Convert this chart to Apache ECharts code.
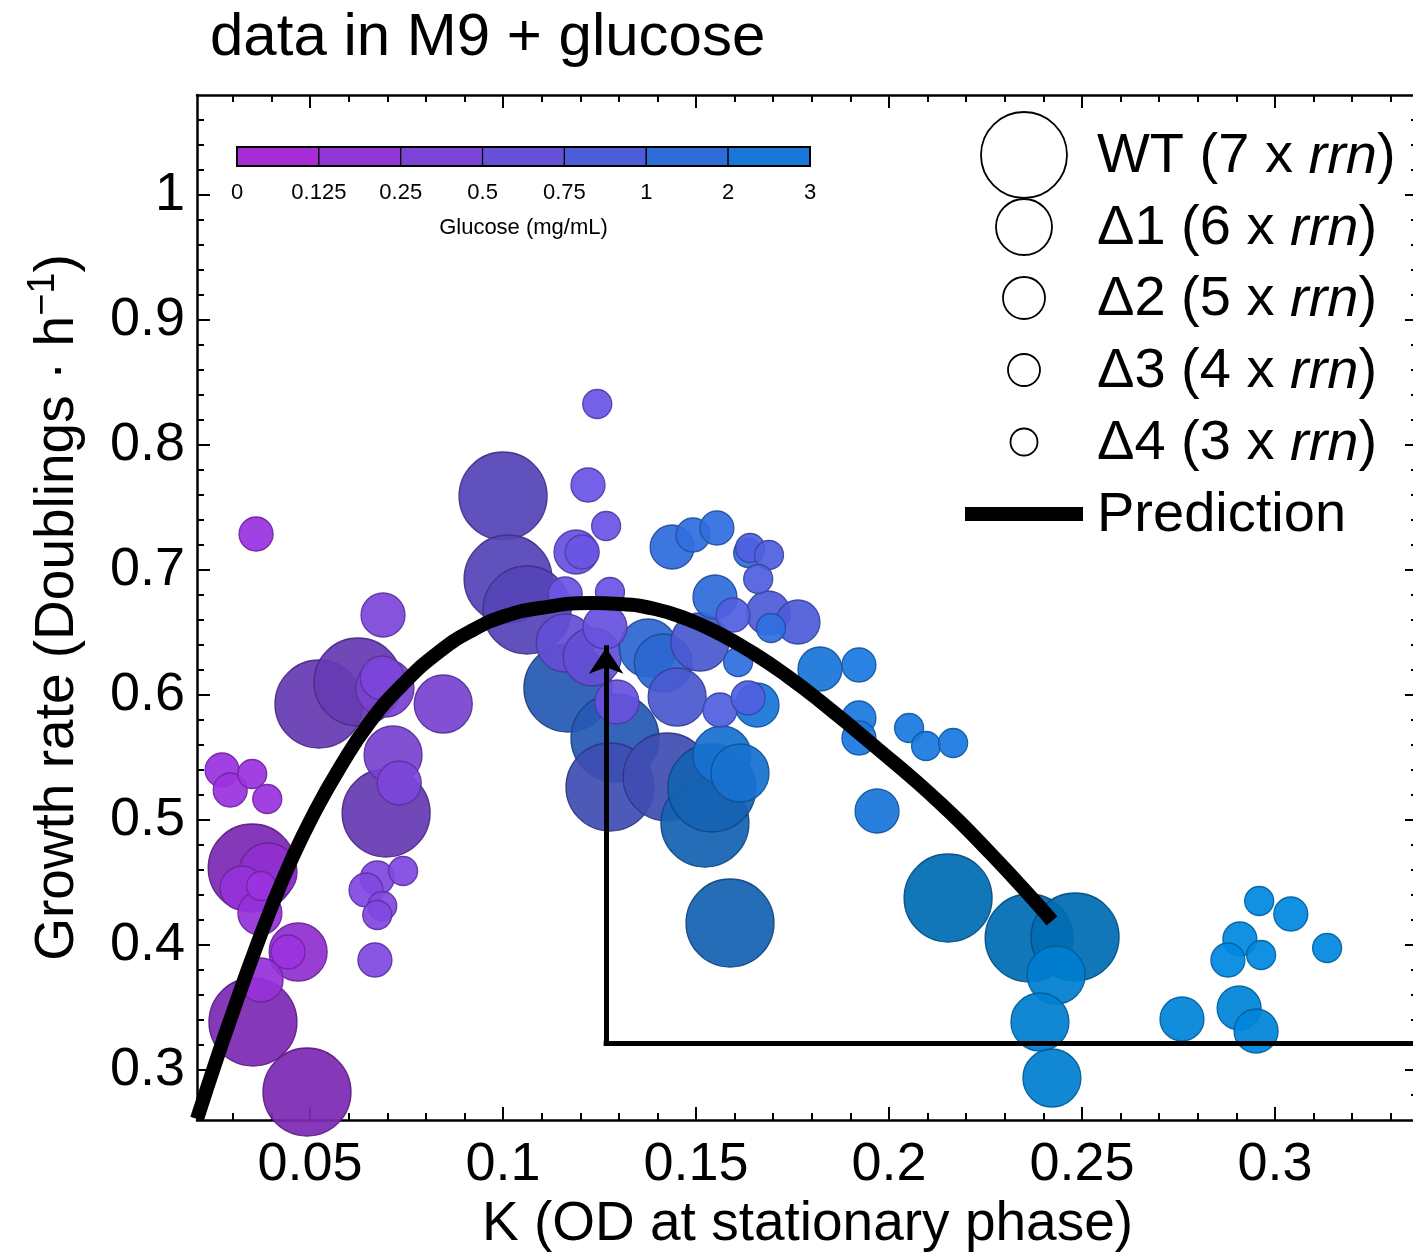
<!DOCTYPE html>
<html><head><meta charset="utf-8">
<script src="https://cdn.jsdelivr.net/npm/echarts@6/dist/echarts.min.js"></script>
<style>html,body{margin:0;padding:0;background:#fff}#chart{width:1413px;height:1252px}</style>
</head><body><div id="chart"></div>
<script>
// ---------- axis ticks ----------
const xMajorTicks = [0.05, 0.1, 0.15, 0.2, 0.25, 0.3];
const xMinorTicks = [0.03,0.04,0.06,0.07,0.08,0.09,0.11,0.12,0.13,0.14,0.16,0.17,0.18,0.19,0.21,0.22,0.23,0.24,0.26,0.27,0.28,0.29,0.31,0.32,0.33];
const yMajorTicks = [0.3, 0.4, 0.5, 0.6, 0.7, 0.8, 0.9, 1];
const yMinorTicks = [0.28,0.32,0.34,0.36,0.38,0.42,0.44,0.46,0.48,0.52,0.54,0.56,0.58,0.62,0.64,0.66,0.68,0.72,0.74,0.76,0.78,0.82,0.84,0.86,0.88,0.92,0.94,0.96,0.98,1.02,1.04,1.06];
const xRange = [0.0207, 0.33705];
const yRange = [0.26, 1.08];

// ---------- colour bar ----------
const glucoseTicks = ['0', '0.125', '0.25', '0.5', '0.75', '1', '2', '3'];
const glucoseBinColors = ['#A82BD8', '#9237D7', '#7B44D6', '#6651D6', '#4D5DD8', '#2E6CD8', '#1877D8'];
// colour of each glucose level as drawn on the points
const glucoseLevels = [0.125, 0.25, 0.5, 0.75, 1, 2, 3];
const glucosePointColors = ['#9B33E0', '#8048E0', '#6A55E5', '#5060E0', '#2F6FE0', '#1A7AE0', '#0088E0'];

// ---------- measurements: [K, growth rate, glucose mg/mL] ----------
const wtData = [
  [0.0350,0.4616,0.125],[0.0352,0.3384,0.125],[0.0492,0.2824,0.125],
  [0.0697,0.5056,0.25],[0.0523,0.5928,0.25],[0.0624,0.6104,0.25],
  [0.1000,0.7592,0.5],[0.1013,0.6928,0.5],[0.1062,0.6680,0.5],
  [0.1168,0.6056,1],[0.1290,0.5656,1],
  [0.1277,0.5264,0.75],[0.1425,0.5344,0.75],
  [0.1523,0.4976,2],[0.1541,0.5256,2],[0.1588,0.4176,2],
  [0.2153,0.4376,3],[0.2363,0.4056,3],[0.2482,0.4064,3]
];
const d1Data = [
  [0.0391,0.4584,0.125],[0.0469,0.3944,0.125],
  [0.0715,0.5520,0.25],[0.0694,0.6056,0.25],[0.0845,0.5928,0.25],
  [0.1161,0.6416,0.5],[0.1231,0.6304,0.5],
  [0.1376,0.6376,1],[0.1415,0.6256,1],
  [0.1510,0.6424,0.75],[0.1451,0.5984,0.75],
  [0.1567,0.5520,2],[0.1614,0.5376,2],
  [0.2433,0.3760,3],[0.2391,0.3384,3],[0.2422,0.2936,3]
];
const d2Data = [
  [0.0324,0.4456,0.125],[0.0370,0.4256,0.125],[0.0373,0.3720,0.125],
  [0.0731,0.5296,0.25],[0.0687,0.6136,0.25],[0.0689,0.6640,0.25],
  [0.1189,0.7144,0.5],[0.1264,0.6544,0.5],[0.1295,0.5944,0.5],
  [0.1438,0.7184,1],[0.1549,0.6784,1],
  [0.1687,0.6656,0.75],[0.1764,0.6584,0.75],
  [0.1658,0.5920,2],[0.1821,0.6208,2],[0.1969,0.5072,2],
  [0.2759,0.3408,3],[0.2907,0.3496,3],[0.2951,0.3312,3]
];
const d3Data = [
  [0.0360,0.7288,0.125],[0.0272,0.5400,0.125],[0.0293,0.5240,0.125],[0.0443,0.3944,0.125],
  [0.0674,0.4536,0.25],[0.0645,0.4440,0.25],[0.0668,0.3880,0.25],
  [0.1220,0.7680,0.5],[0.1205,0.7144,0.5],[0.1161,0.6808,0.5],
  [0.1562,0.5880,0.75],[0.1635,0.5976,0.75],[0.1596,0.6640,0.75],
  [0.1492,0.7280,1],[0.1554,0.7336,1],
  [0.1922,0.6240,2],[0.1922,0.5816,2],[0.1922,0.5656,2],
  [0.3041,0.4248,3],[0.2909,0.4048,3],[0.2878,0.3880,3]
];
const d4Data = [
  [0.0350,0.5368,0.125],[0.0389,0.5168,0.125],[0.0373,0.4472,0.125],
  [0.0741,0.4592,0.25],[0.0687,0.4312,0.25],[0.0674,0.4240,0.25],
  [0.1267,0.7352,0.5],[0.1244,0.8328,0.5],[0.1277,0.6824,0.5],
  [0.1609,0.6264,1],[0.1635,0.7136,1],[0.1694,0.6536,1],
  [0.1640,0.7176,0.75],[0.1689,0.7120,0.75],[0.1661,0.6928,0.75],
  [0.2052,0.5736,2],[0.2096,0.5592,2],[0.2166,0.5616,2],
  [0.2959,0.4352,3],[0.3135,0.3976,3],[0.2964,0.3920,3]
];

// ---------- prediction curve ----------
const predK = [0.0207,0.0259,0.0301,0.0345,0.0396,0.0448,0.0508,0.0578,0.0655,0.0741,0.0837,0.0922,0.1005,0.1096,0.1225,0.1303,0.1394,0.1477,0.1562,0.1648,0.1736,0.1821,0.1959,0.2132,0.2262,0.2391,0.2422];
const predRate = [0.2608,0.3096,0.3472,0.3856,0.4272,0.4656,0.5040,0.5424,0.5784,0.6088,0.6352,0.6520,0.6632,0.6696,0.6736,0.6728,0.6688,0.6608,0.6488,0.6336,0.6152,0.5952,0.5600,0.5136,0.4736,0.4304,0.4192];

// ---------- arrow annotation ----------
const arrowK = 0.1267;
const arrowBaseRate = 0.3216;
const arrowTipRate = 0.6378;

const strains = [
  {label: 'WT (7 x {i|rrn})', data: wtData, size: 88, shade: 0.80},
  {label: '\u03941 (6 x {i|rrn})', data: d1Data, size: 58, shade: 0.93},
  {label: '\u03942 (5 x {i|rrn})', data: d2Data, size: 44, shade: 0.97},
  {label: '\u03943 (4 x {i|rrn})', data: d3Data, size: 34, shade: 1.0},
  {label: '\u03944 (3 x {i|rrn})', data: d4Data, size: 29, shade: 1.0}
];

function shade(hex, f) {
  const n = parseInt(hex.slice(1), 16);
  const r = Math.round(((n >> 16) & 255) * f), g = Math.round(((n >> 8) & 255) * f), b = Math.round((n & 255) * f);
  return 'rgb(' + r + ',' + g + ',' + b + ')';
}
function levelColor(gl) { return glucosePointColors[glucoseLevels.indexOf(gl)]; }

const FONT = '"Liberation Sans", Arial, Helvetica, sans-serif';

function xAxisDef(pos, ticks, len, main) {
  return {
    type: 'value', position: pos, min: xRange[0], max: xRange[1],
    axisLine: {show: main, onZero: false, lineStyle: {color: '#000', width: 2.5}},
    axisTick: {show: true, inside: true, length: len, customValues: ticks, lineStyle: {color: '#000', width: 2}},
    axisLabel: (main && pos === 'bottom') ? {show: true, customValues: ticks, color: '#000', fontSize: 54, fontFamily: FONT, margin: 18,
      formatter: v => String(+v.toFixed(3))} : {show: false},
    splitLine: {show: false},
    name: (main && pos === 'bottom') ? 'K (OD at stationary phase)' : '',
    nameLocation: 'middle', nameGap: 76,
    nameTextStyle: {color: '#000', fontSize: 55, fontFamily: FONT}
  };
}
function yAxisDef(pos, ticks, len, main) {
  return {
    type: 'value', position: pos, min: yRange[0], max: yRange[1],
    axisLine: {show: main, onZero: false, lineStyle: {color: '#000', width: 2.5}},
    axisTick: {show: true, inside: true, length: len, customValues: ticks, lineStyle: {color: '#000', width: 2}},
    axisLabel: (main && pos === 'left') ? {show: true, customValues: ticks, color: '#000', fontSize: 54, fontFamily: FONT, margin: 12,
      formatter: v => String(+v.toFixed(3))} : {show: false},
    splitLine: {show: false},
    name: (main && pos === 'left') ? 'Growth rate (Doublings \u00b7 h{sup|\u22121})' : '',
    nameLocation: 'middle', nameGap: 106, nameRotate: 90,
    nameTextStyle: {color: '#000', fontSize: 55, fontFamily: FONT, lineHeight: 66,
      rich: {sup: {fontSize: 38, fontFamily: FONT, color: '#000', verticalAlign: 'top', lineHeight: 66}}}
  };
}

const series = [];
strains.forEach((s, i) => {
  series.push({
    type: 'scatter', name: s.label, symbolSize: s.size, z: 2 + i, silent: true,
    data: s.data.map(d => ({
      value: d,
      itemStyle: {color: shade(levelColor(d[2]), s.shade), borderColor: shade(levelColor(d[2]), s.shade * 0.72), borderWidth: 1.3, opacity: 0.93}
    }))
  });
});
series.push({
  type: 'line', name: 'Prediction', data: predK.map((k, i) => [k, predRate[i]]), symbol: 'none', smooth: 0.5,
  lineStyle: {color: '#000', width: 14, cap: 'butt', join: 'round'}, z: 20, silent: true
});
series.push({
  type: 'lines', coordinateSystem: 'cartesian2d', z: 21, silent: true,
  symbol: ['none', 'none'],
  lineStyle: {color: '#000', width: 5, opacity: 1, cap: 'square'},
  data: [{coords: [[arrowK, arrowBaseRate], [xRange[1], arrowBaseRate]]}]
});
series.push({
  type: 'lines', coordinateSystem: 'cartesian2d', z: 21, silent: true,
  symbol: ['none', 'arrow'], symbolSize: [22, 26],
  lineStyle: {color: '#000', width: 5, opacity: 1, cap: 'square'},
  data: [{coords: [[arrowK, arrowBaseRate], [arrowK, arrowTipRate]]}]
});

// ---------- graphic: colour bar + legend ----------
const graphic = [];
const cbX0 = 237, cbX1 = 810, cbY = 147, cbH = 19;
const segW = (cbX1 - cbX0) / glucoseBinColors.length;
glucoseBinColors.forEach((c, i) => {
  graphic.push({type: 'rect', shape: {x: cbX0 + i * segW, y: cbY, width: segW, height: cbH}, style: {fill: c, stroke: '#000', lineWidth: 1.2}, z: 50});
});
graphic.push({type: 'rect', shape: {x: cbX0, y: cbY, width: cbX1 - cbX0, height: cbH}, style: {fill: 'none', stroke: '#000', lineWidth: 2}, z: 51});
glucoseTicks.forEach((t, i) => {
  graphic.push({type: 'text', x: cbX0 + i * segW, y: 193, z: 51,
    style: {text: t, fill: '#000', font: '22px ' + FONT, align: 'center', verticalAlign: 'middle'}});
});
graphic.push({type: 'text', x: (cbX0 + cbX1) / 2, y: 228, z: 51,
  style: {text: 'Glucose (mg/mL)', fill: '#000', font: '22px ' + FONT, align: 'center', verticalAlign: 'middle'}});

const legendY = [155, 227, 298, 370, 442];
strains.forEach((s, i) => {
  graphic.push({type: 'circle', shape: {cx: 1024, cy: legendY[i], r: s.size / 2 - 1}, style: {fill: '#fff', stroke: '#000', lineWidth: 1.8}, z: 60});
  graphic.push({type: 'text', x: 1097, y: legendY[i] + 2, z: 60,
    style: {text: s.label, fill: '#000', font: '56px ' + FONT, align: 'left', verticalAlign: 'middle',
      rich: {i: {fontStyle: 'italic', fontSize: 56, fontFamily: FONT, fill: '#000'}}}});
});
graphic.push({type: 'rect', shape: {x: 965, y: 507, width: 118, height: 14}, style: {fill: '#000'}, z: 60});
graphic.push({type: 'text', x: 1097, y: 516, z: 60,
  style: {text: 'Prediction', fill: '#000', font: '56px ' + FONT, align: 'left', verticalAlign: 'middle'}});

const option = {
  backgroundColor: '#fff',
  animation: false,
  title: {text: 'data in M9 + glucose', left: 205, top: 3,
    textStyle: {color: '#000', fontSize: 60, fontWeight: 'normal', fontFamily: FONT}},
  grid: {left: 197, top: 95, width: 1221, height: 1025, containLabel: false, outerBoundsMode: 'none'},
  xAxis: [
    xAxisDef('bottom', xMajorTicks, 13, true),
    xAxisDef('bottom', xMinorTicks, 7, false),
    xAxisDef('top', xMajorTicks, 13, true),
    xAxisDef('top', xMinorTicks, 7, false)
  ],
  yAxis: [
    yAxisDef('left', yMajorTicks, 13, true),
    yAxisDef('left', yMinorTicks, 7, false),
    yAxisDef('right', yMajorTicks, 13, true),
    yAxisDef('right', yMinorTicks, 7, false)
  ],
  series: series,
  graphic: graphic
};
const chart = echarts.init(document.getElementById('chart'), null, {renderer: 'canvas'});
chart.setOption(option);
</script>
</body></html>
